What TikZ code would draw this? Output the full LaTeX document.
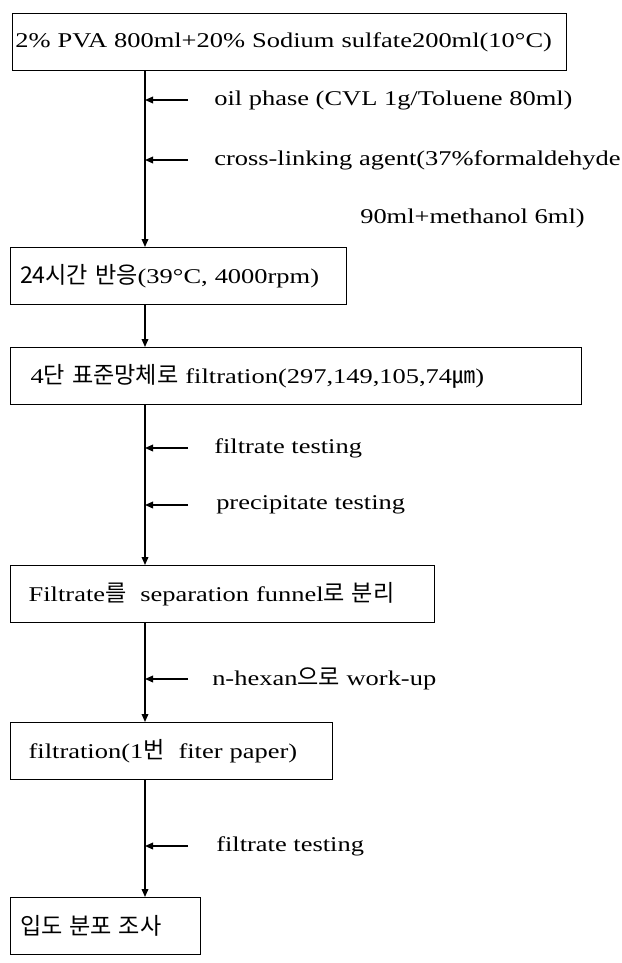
\documentclass[tikz,border=0pt]{standalone}
\usepackage{fontspec}
\setmainfont{Liberation Serif}[FakeStretch=1.26]
\newfontfamily\kr{Noto Sans CJK KR}[Scale=1.1,WordSpace=2]
\usetikzlibrary{arrows.meta,positioning,calc}
\tikzset{
  stage/.style={draw,line width=1pt,anchor=north west,align=left,
                minimum height=42.75pt,inner xsep=13.5pt,
                font=\fontsize{15.75}{18}\selectfont},
  note/.style={anchor=west,inner sep=0pt,font=\fontsize{15.75}{18}\selectfont},
  arr/.style={-{Stealth[length=6pt,width=5pt,inset=0pt]},line width=1pt},
}
\begin{document}
\begin{tikzpicture}[x=0.75pt,y=-0.75pt]
  \useasboundingbox (0,0) rectangle (621,963);
  \coordinate (spine) at (145,0);
  \coordinate (tail) at (188,0);
  % process boxes
  \node[stage,inner xsep=2pt,text width=411.5pt] (s1) at (12,13) {\mbox{2\% PVA 800ml+20\% Sodium sulfate200ml(10°C)}};
  \node[stage,inner xsep=7pt,text width=238pt]   (s2) at (10,247) {\mbox{{\kr 24시간 반응}(39°C, 4000rpm)}};
  \node[stage,inner xsep=15pt,text width=398.25pt] (s3) at (10,347) {\mbox{4{\kr 단 표준망체로} filtration(297,149,105,74{\kr ㎛})}};
  \node[stage,text width=291pt]   (s4) at (10,565) {\mbox{Filtrate{\kr 를 } separation funnel{\kr 로 분리}}};
  \node[stage,text width=214.5pt] (s5) at (10,722) {\mbox{filtration(1{\kr 번 } fiter paper)}};
  \node[stage,inner xsep=7pt,text width=128.5pt] (s6) at (10,897) {\mbox{{\kr 입도 분포 조사}}};
  % side inputs
  \node[note] (oil)   at (214,100) {oil phase (CVL 1g/Toluene 80ml)};
  \node[note] (cross) at (214,160) {cross-linking agent(37\%formaldehyde};
  \node[note] (meth)  at (360,218) {90ml+methanol 6ml)};
  \node[note] (ft1)   at (214,448) {filtrate testing};
  \node[note] (pt)    at (216,505) {precipitate testing};
  \node[note] (hex)   at (212,679) {n-hexan{\kr 으로} work-up};
  \node[note] (ft2)   at (216,846) {filtrate testing};
  % main flow
  \draw[arr] (s1.south -| spine) -- (s2.north -| spine);
  \draw[arr] (s2.south -| spine) -- (s3.north -| spine);
  \draw[arr] (s3.south -| spine) -- (s4.north -| spine);
  \draw[arr] (s4.south -| spine) -- (s5.north -| spine);
  \draw[arr] (s5.south -| spine) -- (s6.north -| spine);
  % inputs into the flow
  \foreach \n in {oil,cross,ft1,pt,hex,ft2}
    \draw[arr] (\n.west -| tail) -- (\n.west -| spine);
\end{tikzpicture}
\end{document}
